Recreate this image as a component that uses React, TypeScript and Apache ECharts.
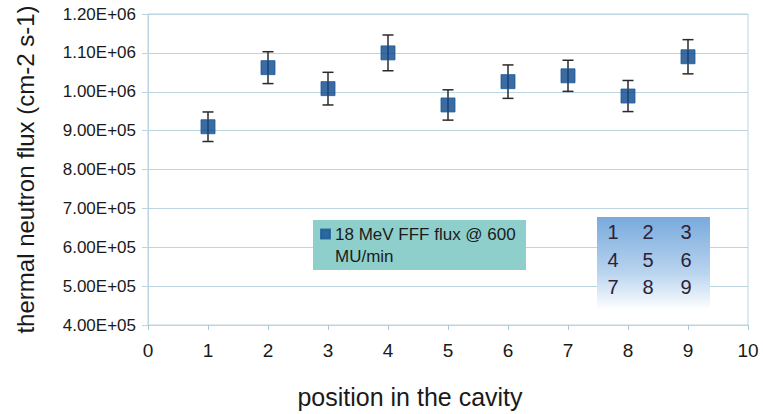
import React, { useEffect, useRef } from "react";
import * as echarts from "echarts";

const positions = [1, 2, 3, 4, 5, 6, 7, 8, 9];
const flux = [910000, 1062000, 1008000, 1100000, 966000, 1026000, 1041000, 989000, 1090000];
const fluxErr = [38000, 41000, 42000, 46000, 39000, 43000, 40000, 40000, 44000];
const seriesName = "18 MeV FFF flux @ 600 MU/min";
const gridNumbers = [
  ["1", "2", "3"],
  ["4", "5", "6"],
  ["7", "8", "9"],
];

const FONT = "'Liberation Sans', Arial, sans-serif";

function sci(v: number): string {
  if (v === 0) return "0.00E+00";
  const e = Math.floor(Math.log10(Math.abs(v)) + 1e-9);
  const m = v / Math.pow(10, e);
  const es = (e < 0 ? "-" : "+") + String(Math.abs(e)).padStart(2, "0");
  return m.toFixed(2) + "E" + es;
}

export default function App() {
  const ref = useRef<HTMLDivElement>(null);
  useEffect(() => {
    if (!ref.current) return;
    const chart = echarts.init(ref.current, null, { renderer: "svg" });
    const pts = positions.map((p, i) => [p, flux[i]]);
    const errs = positions.map((p, i) => [p, flux[i] - fluxErr[i], flux[i] + fluxErr[i]]);

    const textEls: any[] = [];
    gridNumbers.forEach((row, r) =>
      row.forEach((t, c) => {
        textEls.push({
          type: "text",
          x: [16, 51, 89][c],
          y: 15 + r * 27.5,
          z: 11,
          style: {
            text: t,
            fill: "#2b2238",
            font: `20px ${FONT}`,
            textAlign: "center",
            textVerticalAlign: "middle",
          },
        });
      })
    );

    chart.setOption({
      animation: false,
      backgroundColor: "#ffffff",
      textStyle: { fontFamily: FONT },
      grid: {
        left: 148,
        right: 15,
        top: 14,
        bottom: 88,
        show: true,
        borderColor: "#bcd5e0",
        borderWidth: 1,
      },
      legend: {
        show: true,
        left: 313,
        top: 194,
        z: 12,
        orient: "vertical",
        padding: [7, 6, 7, 7],
        itemWidth: 9,
        itemHeight: 9,
        itemGap: 0,
        icon: "rect",
        data: [{ name: seriesName, icon: "rect", itemStyle: { color: "#124d94" } }],
        formatter: () => " \n18 MeV FFF flux @ 600\nMU/min",
        textStyle: {
          fontFamily: FONT,
          fontSize: 17,
          color: "#1b1b1b",
          lineHeight: 22,
        },
      },
      xAxis: {
        type: "value",
        min: 0,
        max: 10,
        interval: 1,
        name: "position in the cavity",
        nameLocation: "middle",
        nameGap: 59,
        nameTextStyle: { fontFamily: FONT, fontSize: 25, color: "#1a1a1a", padding: [0, 76, 0, 0] },
        axisLine: { show: true, lineStyle: { color: "#bcd5e0" } },
        axisTick: { show: true, length: 5, lineStyle: { color: "#a9c6d4" } },
        axisLabel: { fontFamily: FONT, fontSize: 19, color: "#1a1a1a", margin: 16 },
        splitLine: { show: false },
      },
      yAxis: {
        type: "value",
        min: 400000,
        max: 1200000,
        interval: 100000,
        name: "thermal neutron flux (cm-2 s-1)",
        nameLocation: "middle",
        nameGap: 111,
        nameTextStyle: { fontFamily: FONT, fontSize: 24, color: "#1a1a1a" },
        axisLine: { show: true, lineStyle: { color: "#bcd5e0" } },
        axisTick: { show: true, length: 6, lineStyle: { color: "#bcd5e0" } },
        axisLabel: {
          fontFamily: FONT,
          fontSize: 17,
          color: "#1a1a1a",
          margin: 12,
          formatter: (v: number) => sci(v),
        },
        splitLine: { show: true, lineStyle: { color: "#bcd5e0", width: 1 } },
      },
      series: [
        {
          type: "custom",
          name: "err",
          z: 2,
          silent: true,
          data: errs,
          renderItem: (params: any, api: any) => {
            const x = api.value(0);
            const lo = api.coord([x, api.value(1)]);
            const hi = api.coord([x, api.value(2)]);
            const hw = 5.5;
            const st = { stroke: "#2a2a2a", lineWidth: 1.5 };
            return {
              type: "group",
              children: [
                { type: "line", shape: { x1: lo[0], y1: lo[1], x2: hi[0], y2: hi[1] }, style: st },
                { type: "line", shape: { x1: lo[0] - hw, y1: lo[1], x2: lo[0] + hw, y2: lo[1] }, style: st },
                { type: "line", shape: { x1: hi[0] - hw, y1: hi[1], x2: hi[0] + hw, y2: hi[1] }, style: st },
              ],
            };
          },
        },
        {
          type: "scatter",
          name: seriesName,
          z: 3,
          symbol: "rect",
          symbolSize: 14,
          data: pts,
          itemStyle: { color: "#0a468a", borderColor: "#1a5a9c", borderWidth: 1 },
        },
      ],
      graphic: [
        {
          type: "rect",
          left: 313,
          top: 220,
          z: 10,
          shape: { x: 0, y: 0, width: 213, height: 50 },
          style: { fill: "#8ecfcb" },
        },
        {
          type: "group",
          left: 597,
          top: 217,
          z: 10,
          children: [
            {
              type: "rect",
              z: 10,
              shape: { x: 0, y: 0, width: 113, height: 93 },
              style: {
                fill: new echarts.graphic.LinearGradient(0, 0, 0, 1, [
                  { offset: 0, color: "#78aadd" },
                  { offset: 0.6, color: "#b9d4ee" },
                  { offset: 1, color: "rgba(255,255,255,1)" },
                ]),
              },
            },
            ...textEls,
          ],
        },
      ],
    });
    return () => chart.dispose();
  }, []);
  return <div ref={ref} style={{ position: "absolute", left: 0, top: 0, width: 763, height: 414 }} />;
}
